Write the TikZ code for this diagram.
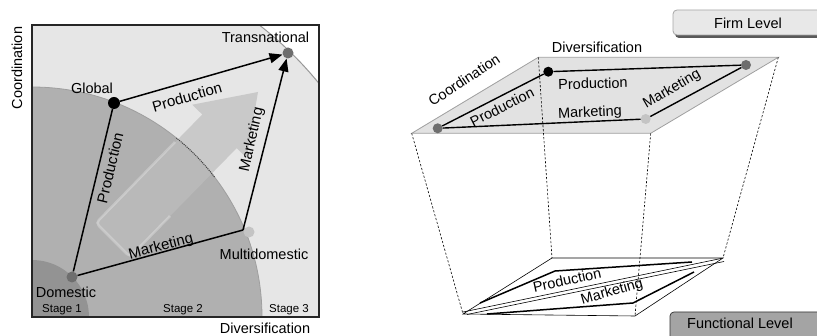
\documentclass[tikz,border=0pt]{standalone}
\usepackage{fontspec}
\setmainfont{Liberation Sans}
\usetikzlibrary{arrows.meta}
\definecolor{stthree}{HTML}{E6E6E6}
\definecolor{sttwo}{HTML}{B0B0B0}
\definecolor{stone}{HTML}{939393}
\definecolor{dotdark}{HTML}{6E6E6E}
\definecolor{dotlight}{HTML}{C4C4C4}
\definecolor{bigarrow}{HTML}{BDBDBD}
\definecolor{planefill}{HTML}{E2E2E2}
\definecolor{firmfill}{HTML}{E8E8E8}
\definecolor{funcfill}{HTML}{A4A4A4}
\begin{document}
\begin{tikzpicture}[x=1pt,y=-1pt,
  lbl/.style={font=\fontsize{14.5}{16}\selectfont, inner sep=0pt},
  elbl/.style={font=\fontsize{15}{17}\selectfont, inner sep=0pt},
  stg/.style={font=\fontsize{11.5}{13}\selectfont, inner sep=0pt},
  dot/.style={circle, inner sep=0pt, minimum size=#1},
  conn/.style={line width=1.5pt, black},
  arr/.style={conn, -{Triangle[length=13pt,width=10pt]}},
  dsh/.style={dash pattern=on 2.2pt off 1.8pt, line width=0.6pt},
]
\useasboundingbox (0,0) rectangle (817,336);
\clip (0,0) rectangle (817,336);

% ---------------- left panel ----------------
\begin{scope}
\clip (32,25) rectangle (319,317);
\fill[white] (32,25) rectangle (319,317);
\filldraw[fill=stthree, draw=gray!80, line width=1pt] (32,317) circle[radius=370];
\filldraw[fill=sttwo, draw=gray!75, line width=0.8pt] (32,317) circle[radius=230];
\fill[stone] (32,317) circle[radius=57];
% big faded arrow
\fill[bigarrow, opacity=0.7] (96,223) -- (202.3,114.5) -- (192.3,104.7) -- (258,92)
   -- (246.7,157.9) -- (236.7,148.1) -- (130,257) -- cycle;
\draw[white, opacity=0.28, line width=2.5pt, rounded corners=4pt]
   (175,142) -- (96,223) -- (130,257) -- (170,216);
\draw[gray!50!black, densely dotted, line width=1pt]
   plot[domain=37.5:51.1, samples=20] ({32+230*cos(\x)},{317-230*sin(\x)});
\end{scope}
\draw[line width=2pt, black!85] (32,25) rectangle (319,317);

\node[dot=11pt, fill=dotlight] (multi) at (249,232) {};
\coordinate (mv) at (243,230);
\node[dot=11pt, fill=dotdark] (dom) at (72,277) {};
\node[dot=12pt, fill=black] (glob) at (114,103) {};
\node[dot=11pt, fill=dotdark] (trans) at (288,53) {};

\draw[conn] (dom) -- (glob);
\draw[arr] (glob) -- (trans);
\draw[conn] (dom) -- (mv);
\draw[arr] (mv) -- (trans);

\node[elbl, rotate=76.4] (lp1) at (110,168) {Production};
\node[elbl, rotate=16] (lp2) at (187,97) {Production};
\node[elbl, rotate=77.3] (lm1) at (252,140) {Marketing};
\node[elbl, rotate=14.6] (lm2) at (161,247) {Marketing};

\node[lbl] (tglob) at (92,88) {Global};
\node[lbl] (ttrans) at (265.5,37.5) {Transnational};
\node[lbl] (tmulti) at (264,254) {Multidomestic};
\node[lbl] (tdom) at (66,292) {Domestic};
\node[stg] (s1) at (62,310) {Stage 1};
\node[stg] (s2) at (183,310) {Stage 2};
\node[stg] (s3) at (289,310) {Stage 3};
\node[lbl, rotate=90] (tcoord) at (17,68) {Coordination};
\node[lbl] (tdiv) at (265,328.5) {Diversification};

% ---------------- right panel ----------------
% Firm level box
\fill[black!65, rounded corners=4pt] (675,13) rectangle (835,38);
\filldraw[fill=firmfill, draw=gray!70, line width=0.8pt, rounded corners=4pt] (673,10) rectangle (835,35);
\node[lbl] (firm) at (748,23) {Firm Level};

% top plane
\coordinate (t1) at (411.7,133.3);
\coordinate (t2) at (538.3,57.3);
\coordinate (t3) at (778.3,57.3);
\coordinate (t4) at (650.7,133.3);
\filldraw[fill=planefill, draw=gray!75, line width=0.8pt] (t1) -- (t2) -- (t3) -- (t4) -- cycle;

% bottom plane
\coordinate (b1) at (463,314);
\coordinate (b2) at (552,258);
\coordinate (b3) at (723,258);
\coordinate (b4) at (635,316);
\filldraw[fill=white, draw=black, line width=0.6pt] (b1) -- (b2) -- (b3) -- (b4) -- cycle;
\draw[line width=0.6pt] (463,312) -- (721,258.5);
\draw[line width=0.6pt] (467,314.5) -- (724,261.5);
\coordinate (pa) at (480,303);
\coordinate (pb) at (555,271);
\coordinate (pc) at (692,262);
\coordinate (ma) at (487,314);
\coordinate (mb) at (633,303);
\coordinate (mc) at (694,272);
\draw[line width=1.5pt] (pa) -- (pb) -- (pc);
\draw[line width=1.5pt] (ma) -- (mb) -- (mc);
\node[lbl, rotate=12.4] (bp) at (567,280) {Production};
\node[lbl, rotate=16] (bm) at (612,292) {Marketing};

% dashed projection lines
\draw[dsh] (t1) -- (b1);
\draw[dsh] (t2) -- (b2);
\draw[dsh] (t3) -- (b3);
\draw[dsh] (t4) -- (b4);

% dots on firm plane
\node[dot=10pt, fill=dotdark] (fd) at (437.7,128.3) {};
\node[dot=10pt, fill=black] (fg) at (548.3,71.7) {};
\node[dot=10pt, fill=dotdark] (ft) at (746,65) {};
\node[dot=10pt, fill=dotlight] (fm) at (645.7,119) {};
\draw[line width=1.4pt] (fd) -- (fg);
\draw[line width=1.4pt] (fg) -- (ft);
\draw[line width=1.4pt] (ft) -- (fm);
\draw[line width=1.4pt] (fm) -- (fd);

\node[lbl, rotate=27] (rp1) at (502,107) {Production};
\node[lbl, rotate=1.5] (rp2) at (593,83.5) {Production};
\node[lbl, rotate=2.5] (rm1) at (590,113) {Marketing};
\node[lbl, rotate=30] (rm2) at (672,89.5) {Marketing};
\node[lbl, rotate=33.4] (rcoord) at (464,80) {Coordination};
\node[lbl] (rdiv) at (597,47) {Diversification};

% Functional level box
\filldraw[fill=funcfill, draw=gray!40!black, line width=0.7pt, rounded corners=4pt] (670,312) rectangle (835,340);
\node[lbl] (func) at (740,323.5) {Functional Level};
\end{tikzpicture}
\end{document}
